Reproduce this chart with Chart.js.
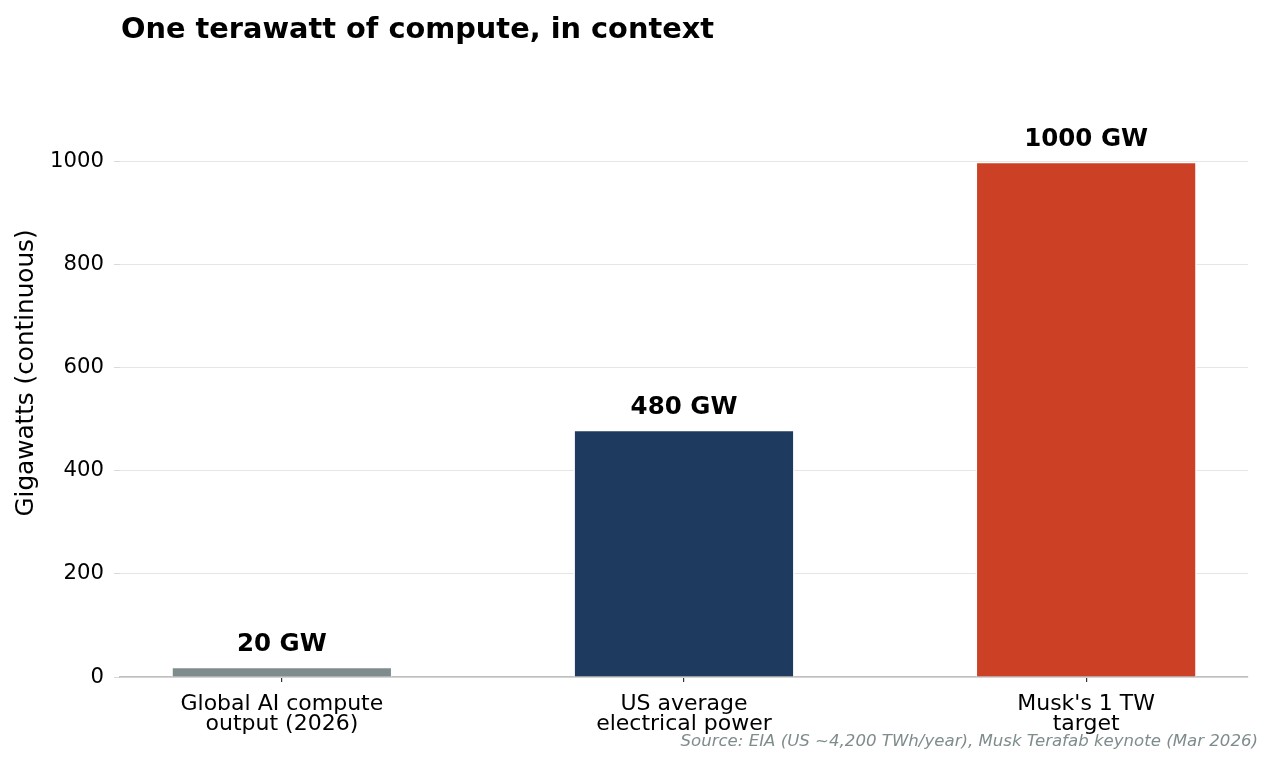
<!DOCTYPE html>
<html>
<head>
<meta charset="utf-8">
<script src="https://cdn.jsdelivr.net/npm/chart.js@4.4.1/dist/chart.umd.min.js"></script>
<style>
  html, body { margin: 0; padding: 0; background: #fff; }
  #wrap { width: 1275px; height: 768px; position: relative; }
</style>
</head>
<body>
<div id="wrap"><canvas id="chart"></canvas></div>
<script>
// data
const categories = [["Global AI compute", "output (2026)"], ["US average", "electrical power"], ["Musk's 1 TW", "target"]];
const values = [20, 480, 1000];
const valueLabels = ["20 GW", "480 GW", "1000 GW"];
const barColors = ["#7f8c8d", "#1f3a5f", "#cc4125"];
const yTicks = [0, 200, 400, 600, 800, 1000];

const titleText = "One terawatt of compute, in context";
const yTitle = "Gigawatts (continuous)";
const sourceText = "Source: EIA (US ~4,200 TWh/year), Musk Terafab keynote (Mar 2026)";

Chart.defaults.font.family = "'DejaVu Sans', sans-serif";
Chart.defaults.color = "#000";

// title, value labels and source note
const annotate = {
  id: "annotate",
  afterDatasetsDraw(chart) {
    const ctx = chart.ctx;
    const area = chart.chartArea;
    const x = chart.scales.x, y = chart.scales.y;
    ctx.save();
    ctx.fillStyle = "#000";
    ctx.font = "bold 28.8px 'DejaVu Sans'";
    ctx.textAlign = "left";
    ctx.textBaseline = "alphabetic";
    ctx.fillText(titleText, area.left + 1, 38);

    ctx.font = "bold 24.5px 'DejaVu Sans'";
    ctx.textAlign = "center";
    ctx.textBaseline = "middle";
    values.forEach((v, i) => {
      ctx.fillText(valueLabels[i], x.getPixelForValue(i), y.getPixelForValue(v) - 22);
    });

    ctx.font = "italic 16.6px 'DejaVu Sans'";
    ctx.fillStyle = "#7f8c8d";
    ctx.textAlign = "right";
    ctx.fillText(sourceText, 1258, 742);
    ctx.restore();
  }
};

new Chart(document.getElementById("chart"), {
  type: "bar",
  data: {
    datasets: [{
      data: values.map((v, i) => ({ x: i, y: v })),
      backgroundColor: barColors,
      borderColor: "#fff",
      borderWidth: 1.5,
      barPercentage: 0.55,
      categoryPercentage: 1
    }]
  },
  options: {
    responsive: true,
    maintainAspectRatio: false,
    animation: false,
    layout: { padding: { left: 0, right: 27, top: 69, bottom: 0 } },
    plugins: { legend: { display: false }, tooltip: { enabled: false }, title: { display: false } },
    scales: {
      x: {
        type: "linear",
        offset: false,
        min: -0.4025,
        max: 2.4025,
        afterBuildTicks: s => { s.ticks = categories.map((c, i) => ({ value: i })); },
        afterFit: s => { s.height = 91; },
        ticks: {
          autoSkip: false,
          maxRotation: 0,
          padding: 12,
          font: { size: 22, lineHeight: 0.91 },
          color: "#000",
          callback: v => categories[v]
        },
        grid: { offset: false, drawOnChartArea: false, drawTicks: true, tickLength: 5, tickColor: "#333", lineWidth: 1.2 },
        border: { display: true, color: "#bfbfbf", width: 1.5 }
      },
      y: {
        min: 0,
        max: 1180,
        afterBuildTicks: s => { s.ticks = yTicks.map(v => ({ value: v })); },
        afterFit: s => { s.width = 120; },
        ticks: { padding: 10, font: { size: 21.2 }, color: "#000", callback: v => String(v) },
        grid: { color: "#e6e6e6", lineWidth: 1, tickLength: 6, tickColor: "#d9d9d9" },
        border: { display: false },
        title: { display: true, text: yTitle, font: { size: 24.7 }, color: "#000", padding: { top: 12, bottom: 0 } }
      }
    }
  },
  plugins: [annotate]
});
</script>
</body>
</html>
